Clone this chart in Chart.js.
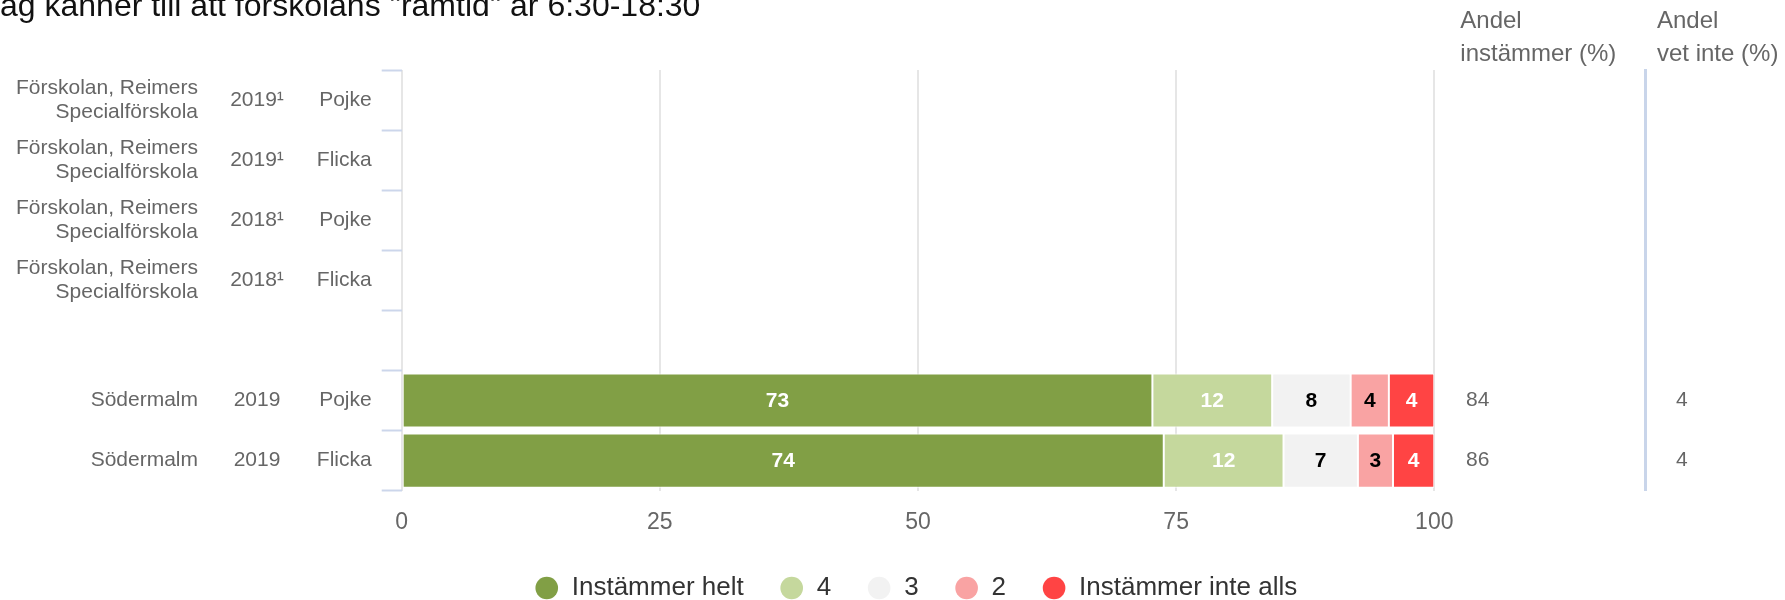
<!DOCTYPE html>
<html>
<head>
<meta charset="utf-8">
<script src="https://cdn.jsdelivr.net/npm/chart.js@4.4.0/dist/chart.umd.min.js"></script>
<style>
  html, body { margin: 0; padding: 0; background: #fff; }
  #wrap { width: 1785px; height: 600px; }
</style>
</head>
<body>
<div id="wrap"><canvas id="chart" width="1785" height="600"></canvas></div>
<script>
/* Stacked survey bar – "ramtid" question, per unit / year / gender */
var TITLE = 'Jag känner till att förskolans "ramtid" är 6:30-18:30';

var UNITS = [
  ['Förskolan, Reimers', 'Specialförskola'],
  ['Förskolan, Reimers', 'Specialförskola'],
  ['Förskolan, Reimers', 'Specialförskola'],
  ['Förskolan, Reimers', 'Specialförskola'],
  '',
  'Södermalm',
  'Södermalm'
];
var YEARS   = ['2019¹', '2019¹', '2018¹', '2018¹', '', '2019', '2019'];
var GENDERS = ['Pojke', 'Flicka', 'Pojke', 'Flicka', '', 'Pojke', 'Flicka'];

var SERIES = ['Instämmer helt', '4', '3', '2', 'Instämmer inte alls'];
var HELT = [null, null, null, null, null, 72.7, 73.8];
var FYRA = [null, null, null, null, null, 11.6, 11.6];
var TRE  = [null, null, null, null, null, 7.6, 7.2];
var TVA  = [null, null, null, null, null, 3.7, 3.4];
var INTE = [null, null, null, null, null, 4.4, 4.0];

var ANDEL_INST = [null, null, null, null, null, 84, 86];
var ANDEL_VET  = [null, null, null, null, null, 4, 4];
var HEAD_INST = ['Andel', 'instämmer (%)'];
var HEAD_VET  = ['Andel', 'vet inte (%)'];

var X_TICKS = [0, 25, 50, 75, 100];

var COLORS = ['#819f45', '#c5d89d', '#f2f2f2', '#f9a3a3', '#ff4444'];
var LABEL_COLORS = ['#fff', '#fff', '#000', '#000', '#fff'];
var FONT = '"Liberation Sans", Arial, sans-serif';

Chart.defaults.font.family = FONT;
Chart.defaults.color = '#666';

function fixWidth(w) { return function (s) { s.width = w; }; }
function fmt(v) { return v === null || v === undefined ? '' : String(v); }

/* rounded value inside each segment */
var barLabels = {
  id: 'barLabels',
  afterDatasetsDraw: function (chart) {
    var ctx = chart.ctx;
    ctx.save();
    ctx.font = 'bold 21px ' + FONT;
    ctx.textAlign = 'center';
    ctx.textBaseline = 'middle';
    chart.data.datasets.forEach(function (ds, di) {
      chart.getDatasetMeta(di).data.forEach(function (bar, i) {
        var v = ds.data[i];
        if (v === null || v === undefined) return;
        ctx.fillStyle = LABEL_COLORS[di];
        ctx.fillText(String(Math.round(v)), (bar.x + bar.base) / 2, bar.y + 1);
      });
    });
    ctx.restore();
  }
};

/* title + column headers */
var headers = {
  id: 'headers',
  afterDraw: function (chart) {
    var ctx = chart.ctx;
    var inst = chart.scales.yInst, vet = chart.scales.yVet;
    ctx.save();
    ctx.textAlign = 'left';
    ctx.textBaseline = 'middle';
    ctx.fillStyle = '#666';
    ctx.font = '24px ' + FONT;
    ctx.fillText(HEAD_INST[0], inst.left + 26, 21);
    ctx.fillText(HEAD_INST[1], inst.left + 26, 54);
    ctx.fillText(HEAD_VET[0], vet.left + 12, 21);
    ctx.fillText(HEAD_VET[1], vet.left + 12, 54);
    ctx.fillStyle = '#111';
    ctx.font = '32px ' + FONT;
    ctx.textBaseline = 'alphabetic';
    ctx.fillText(TITLE, -16, 16);
    ctx.restore();
  }
};

var values = [HELT, FYRA, TRE, TVA, INTE];

new Chart(document.getElementById('chart'), {
  type: 'bar',
  data: {
    labels: GENDERS,
    datasets: SERIES.map(function (name, i) {
      return {
        label: name,
        data: values[i],
        backgroundColor: COLORS[i],
        borderColor: '#fff',
        borderWidth: 1,
        borderSkipped: false,
        barPercentage: 0.9,
        categoryPercentage: 1
      };
    })
  },
  options: {
    indexAxis: 'y',
    responsive: false,
    animation: false,
    layout: { padding: { top: 70, bottom: -11, left: 0, right: -47 } },
    plugins: {
      tooltip: { enabled: false },
      legend: {
        position: 'bottom',
        labels: {
          usePointStyle: true,
          pointStyle: 'circle',
          boxWidth: 24,
          boxHeight: 16,
          padding: 36,
          color: '#333',
          font: { size: 26 },
          generateLabels: function (chart) {
            var items = Chart.defaults.plugins.legend.labels.generateLabels(chart);
            items.forEach(function (it) { it.lineWidth = 0; it.strokeStyle = it.fillStyle; });
            return items;
          }
        }
      }
    },
    scales: {
      x: {
        stacked: true,
        min: 0,
        max: 100,
        afterBuildTicks: function (s) { s.ticks = X_TICKS.map(function (v) { return { value: v }; }); },
        afterFit: function (s) { s.height = 48.3; },
        ticks: { font: { size: 23 }, color: '#666', padding: 18 },
        grid: { color: '#e6e6e6', lineWidth: 2, drawTicks: false },
        border: { display: false }
      },
      y: {
        stacked: true,
        position: 'left',
        weight: 0,
        offset: true,
        afterFit: fixWidth(109.85),
        ticks: { font: { size: 21 }, color: '#666', padding: 10 },
        grid: {
          offset: true,
          drawOnChartArea: false,
          drawTicks: true,
          tickLength: 20,
          tickColor: '#ccd6eb',
          tickWidth: 2
        },
        border: { display: false }
      },
      yYear: {
        type: 'category',
        axis: 'y',
        labels: YEARS,
        position: 'left',
        weight: 1,
        offset: true,
        afterFit: fixWidth(83.85),
        ticks: { font: { size: 21 }, color: '#666', padding: 8, crossAlign: 'center' },
        grid: { display: false, drawTicks: false },
        border: { display: false }
      },
      yUnit: {
        type: 'category',
        axis: 'y',
        labels: UNITS,
        position: 'left',
        weight: 2,
        offset: true,
        afterFit: fixWidth(208),
        ticks: { font: { size: 21, lineHeight: 1.12 }, color: '#666', padding: 10 },
        grid: { display: false, drawTicks: false },
        border: { display: false }
      },
      yInst: {
        type: 'category',
        axis: 'y',
        labels: ANDEL_INST.map(fmt),
        position: 'right',
        weight: 0,
        offset: true,
        afterFit: fixWidth(210.7),
        ticks: { font: { size: 21 }, color: '#666', padding: 31.7 },
        grid: { display: false, drawTicks: false },
        border: { display: false }
      },
      yVet: {
        type: 'category',
        axis: 'y',
        labels: ANDEL_VET.map(fmt),
        position: 'right',
        weight: 1,
        offset: true,
        afterFit: fixWidth(187),
        ticks: { font: { size: 21 }, color: '#666', padding: 31 },
        grid: { display: true, drawOnChartArea: false, drawTicks: false, lineWidth: 0 },
        border: { display: true, color: '#c9d5ea', width: 3 }
      }
    }
  },
  plugins: [barLabels, headers]
});
</script>
</body>
</html>
